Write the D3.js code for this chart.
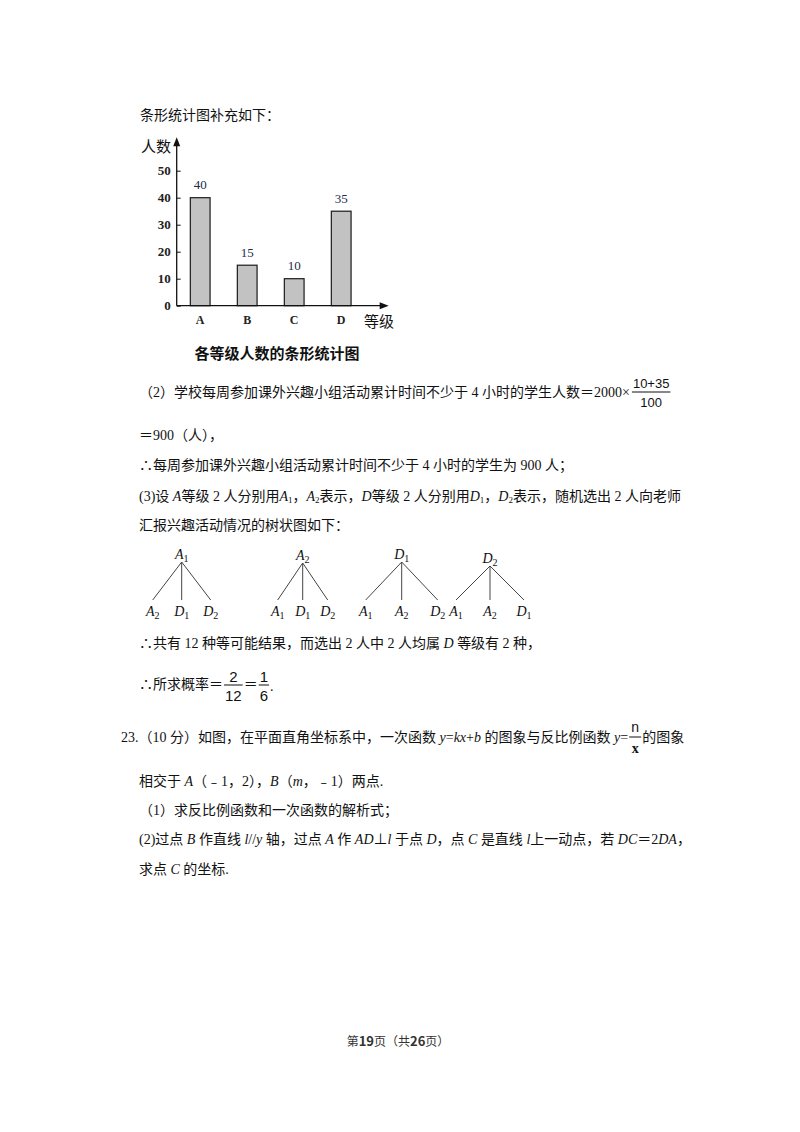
<!DOCTYPE html>
<meta charset="utf-8">
<script src="https://cdn.jsdelivr.net/npm/d3@7"></script>
<style>
body {
  margin: 0;
  background-color: #fff;
}
text {
  fill: #111;
}
.txt {
  font-family: "Liberation Serif", "Noto Sans CJK SC", serif;
  font-size: 14px;
}
.sans {
  font-family: "Liberation Sans", "Noto Sans CJK SC", sans-serif;
}
.cjk {
  font-family: "Noto Sans CJK SC", sans-serif;
}
.bar {
  fill: #c2c2c2;
  stroke: #1a1a1a;
  stroke-width: 1.2px;
}
.axisline {
  stroke: #111;
  stroke-width: 1.3px;
}
.tree line {
  stroke: #444;
  stroke-width: 1px;
}
</style>
<body>
  <div id="page"></div>
</body>
<script>
// chart values
var categories = ["A", "B", "C", "D"];
var counts = [40, 15, 10, 35];
var yTicks = [0, 10, 20, 30, 40, 50];

// tree diagram values
var treeRoots = ["A_1", "A_2", "D_1", "D_2"];
var treeLeaves = [["A_2", "D_1", "D_2"],
                  ["A_1", "D_1", "D_2"],
                  ["A_1", "A_2", "D_2"],
                  ["A_1", "A_2", "D_1"]];

var svg = d3.select("#page").append("svg")
            .attr("width", 800)
            .attr("height", 1132);

svg.append("rect").attr("width", 800).attr("height", 1132).attr("fill", "#fff");

// "$..$" = italic, "_x" = subscript char
function rich(t, str, subSize) {
  var italic = false, buf = "", dy = 0;
  subSize = subSize || "9px";
  function flush() {
    if (!buf) return;
    var s = t.append("tspan").text(buf);
    if (italic) s.style("font-style", "italic");
    if (dy) { s.attr("dy", dy); dy = 0; }
    buf = "";
  }
  for (var i = 0; i < str.length; i++) {
    var c = str[i];
    if (c === "$") { flush(); italic = !italic; }
    else if (c === "_") {
      flush();
      t.append("tspan").attr("dy", 4 + dy).style("font-size", subSize).text(str[++i]);
      dy = -4;
    }
    else buf += c;
  }
  flush();
  return t;
}

function line(x, y, str, cls) {
  var t = svg.append("text")
    .attr("class", cls || "txt")
    .attr("x", x)
    .attr("y", y)
    .attr("dominant-baseline", "central");
  return rich(t, str);
}

function rightOf(t) {
  var b = t.node().getBBox();
  return b.x + b.width;
}

function frac(x, yBar, num, den, cls, size) {
  var a = svg.append("text").attr("class", cls).style("font-size", size)
    .attr("text-anchor", "middle").attr("dominant-baseline", "central").text(num);
  var b = svg.append("text").attr("class", cls).style("font-size", size)
    .attr("text-anchor", "middle").attr("dominant-baseline", "central").text(den);
  var w = Math.max(a.node().getComputedTextLength(), b.node().getComputedTextLength()) + 2;
  a.attr("x", x + w / 2).attr("y", yBar - 9);
  b.attr("x", x + w / 2).attr("y", yBar + 10);
  svg.append("line").attr("x1", x).attr("x2", x + w).attr("y1", yBar).attr("y2", yBar)
    .attr("stroke", "#111").attr("stroke-width", 1);
  return x + w;
}

// ---------- bar chart ----------
var ox = 176.7, oy = 305.7;

var y = d3.scaleLinear().domain([0, 50]).range([oy, 170.7]);
var x = d3.scaleBand().domain(categories).range([ox, ox + 188])
          .paddingInner(0.58).paddingOuter(0.29);

line(140, 115, "条形统计图补充如下：");

var g = svg.append("g");

g.selectAll(".bar")
  .data(counts)
  .enter().append("rect")
  .attr("class", "bar")
  .attr("x", function(d, i) { return x(categories[i]); })
  .attr("y", function(d) { return y(d); })
  .attr("width", x.bandwidth())
  .attr("height", function(d) { return oy - y(d); });

g.selectAll(".val")
  .data(counts)
  .enter().append("text")
  .attr("class", "val")
  .attr("x", function(d, i) { return x(categories[i]) + x.bandwidth() / 2; })
  .attr("y", function(d) { return y(d) - 13; })
  .attr("text-anchor", "middle")
  .attr("dominant-baseline", "central")
  .style("font-family", "Liberation Serif")
  .style("font-size", "13px")
  .style("fill", "#1d2b4c")
  .text(function(d) { return d; });

var yAxis = g.append("g")
  .attr("transform", "translate(" + ox + ",0)")
  .call(d3.axisLeft(y).tickValues(yTicks).tickSizeInner(-4).tickSizeOuter(0).tickPadding(6));
yAxis.select(".domain").remove();
yAxis.selectAll("line").attr("stroke", "#111");
yAxis.selectAll("text")
  .style("font-family", "Liberation Serif")
  .style("font-size", "13px")
  .style("font-weight", "bold")
  .style("fill", "#222");

var xAxis = g.append("g")
  .attr("transform", "translate(0," + oy + ")")
  .call(d3.axisBottom(x).tickSize(0).tickPadding(10));
xAxis.select(".domain").remove();
xAxis.selectAll("text")
  .style("font-family", "Liberation Serif")
  .style("font-size", "12px")
  .style("font-weight", "bold")
  .style("fill", "#222");

// axis lines with arrows
var yTop = y(62), xEnd = ox + 211;
g.append("line").attr("class", "axisline")
  .attr("x1", ox).attr("x2", ox).attr("y1", oy).attr("y2", yTop + 6);
g.append("path")
  .attr("d", d3.line()([[ox - 3.5, yTop + 8], [ox, yTop - 1], [ox + 3.5, yTop + 8]]) + "Z")
  .attr("fill", "#111");
g.append("line").attr("class", "axisline")
  .attr("x1", ox).attr("x2", xEnd - 6).attr("y1", oy).attr("y2", oy);
g.append("path")
  .attr("d", d3.line()([[xEnd - 8, oy - 3.5], [xEnd + 1, oy], [xEnd - 8, oy + 3.5]]) + "Z")
  .attr("fill", "#111");

g.append("text").attr("class", "cjk")
  .attr("x", 156).attr("y", 145)
  .attr("text-anchor", "middle").attr("dominant-baseline", "central")
  .style("font-size", "15px")
  .text("人数");
g.append("text").attr("class", "cjk")
  .attr("x", 379).attr("y", 320)
  .attr("text-anchor", "middle").attr("dominant-baseline", "central")
  .style("font-size", "15px")
  .text("等级");
g.append("text").attr("class", "cjk")
  .attr("x", 277).attr("y", 352)
  .attr("text-anchor", "middle").attr("dominant-baseline", "central")
  .style("font-size", "15px")
  .style("font-weight", "bold")
  .text("各等级人数的条形统计图");

// ---------- text (2) ----------
var t2 = line(139, 392, "（2）学校每周参加课外兴趣小组活动累计时间不少于 4 小时的学生人数＝2000×");
frac(rightOf(t2) + 2, 392, "10+35", "100", "sans", "13px");

line(139, 435, "＝900（人），");
line(139, 465, "∴每周参加课外兴趣小组活动累计时间不少于 4 小时的学生为 900 人；");
line(139, 496, "(3)设 $A$等级 2 人分别用$A$_1，$A$_2表示，$D$等级 2 人分别用$D$_1，$D$_2表示，随机选出 2 人向老师");
line(139, 525, "汇报兴趣活动情况的树状图如下：");

// ---------- tree diagrams ----------
var treeCx = [181.7, 302.7, 401.7, 490],
    treeHalf = [29, 25, 36, 34],
    treeTop = [562, 563, 562, 566],
    treeBottom = 600;

treeRoots.forEach(function(r, i) {
  var root = d3.hierarchy({name: r, children: treeLeaves[i].map(function(n) { return {name: n}; })});
  d3.tree().nodeSize([treeHalf[i], treeBottom - treeTop[i]])(root);

  var tg = svg.append("g")
    .attr("class", "tree")
    .attr("transform", "translate(" + treeCx[i] + "," + treeTop[i] + ")");

  tg.selectAll("line")
    .data(root.links())
    .enter().append("line")
    .attr("x1", function(d) { return d.source.x; })
    .attr("y1", function(d) { return d.source.y; })
    .attr("x2", function(d) { return d.target.x; })
    .attr("y2", function(d) { return d.target.y; });

  root.descendants().forEach(function(d) {
    var t = tg.append("text")
      .attr("class", "txt")
      .attr("x", d.x)
      .attr("y", d.depth ? d.y + 11 : d.y - 8)
      .attr("text-anchor", "middle")
      .attr("dominant-baseline", "central")
      .style("font-size", "14px");
    rich(t, "$" + d.data.name.split("_")[0] + "$_" + d.data.name.split("_")[1], "10px");
  });
});

line(139, 643, "∴共有 12 种等可能结果，而选出 2 人中 2 人均属 $D$ 等级有 2 种，");

var t3 = line(139, 684, "∴所求概率＝");
var fx = frac(rightOf(t3) + 1, 685, "2", "12", "sans", "15px");
var t4 = line(fx + 1, 684, "＝");
fx = frac(rightOf(t4) + 1, 685, "1", "6", "sans", "15px");
line(fx + 1, 686, ".");

// ---------- problem 23 ----------
var t5 = line(121, 737, "23.（10 分）如图，在平面直角坐标系中，一次函数 $y$=$kx$+$b$ 的图象与反比例函数 $y$=");
var nx = rightOf(t5) + 1;
var n = svg.append("text").attr("class", "sans").attr("text-anchor", "middle")
  .attr("dominant-baseline", "central").style("font-size", "14px").text("n");
var xx = svg.append("text").attr("class", "txt").attr("text-anchor", "middle")
  .attr("dominant-baseline", "central").style("font-size", "14px").style("font-weight", "bold").text("x");
var fw = 12;
n.attr("x", nx + fw / 2).attr("y", 727);
xx.attr("x", nx + fw / 2).attr("y", 748);
svg.append("line").attr("x1", nx).attr("x2", nx + fw).attr("y1", 737).attr("y2", 737)
  .attr("stroke", "#111").attr("stroke-width", 1);
line(nx + fw + 1, 737, "的图象");

line(139, 781, "相交于 $A$（﹣1，2），$B$（$m$，﹣1）两点.");
line(139, 810, "（1）求反比例函数和一次函数的解析式；");
line(139, 839, "(2)过点 $B$ 作直线 $l$//$y$ 轴，过点 $A$ 作 $AD$⊥$l$ 于点 $D$，点 $C$ 是直线 $l$上一动点，若 $DC$＝2$DA$，");
line(139, 869, "求点 $C$ 的坐标.");

// ---------- footer ----------
var ft = svg.append("text")
  .attr("class", "cjk")
  .attr("x", 398)
  .attr("y", 1040)
  .attr("text-anchor", "middle")
  .attr("dominant-baseline", "central")
  .style("font-size", "12px")
  .style("fill", "#333");
[["第", 0], ["19", 1], ["页（共", 0], ["26", 1], ["页）", 0]].forEach(function(p) {
  ft.append("tspan").style("font-weight", p[1] ? "bold" : null).style("font-size", p[1] ? "13px" : null).text(p[0]);
});
</script>
